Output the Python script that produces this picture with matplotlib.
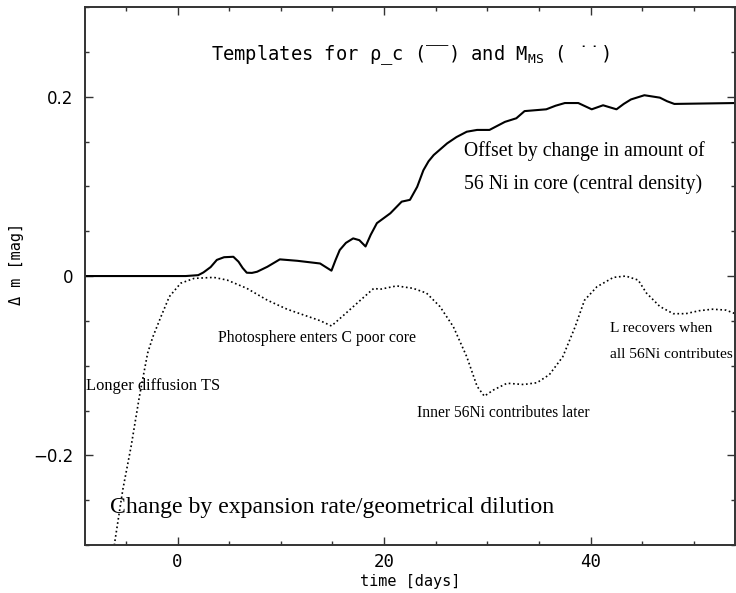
import matplotlib
matplotlib.use("Agg")
import matplotlib.pyplot as plt
from matplotlib.ticker import MultipleLocator

# ---- data ----
solid_t = [-9.0, 0.8, 2.0, 2.5, 3.2, 3.8, 4.5, 5.4, 5.9, 6.3, 6.7, 7.2, 7.7, 8.7,
           9.9, 11.6, 13.8, 14.9, 15.3, 15.7, 16.3, 17.0, 17.6, 18.2, 18.7,
           19.3, 20.6, 21.7, 22.5, 23.2, 23.8, 24.3, 24.8, 26.1, 27.0, 28.0,
           29.0, 30.2, 31.7, 32.8, 33.6, 35.7, 36.6, 37.5, 38.8, 40.1, 41.2,
           42.5, 43.2, 43.9, 45.2, 46.7, 47.4, 48.1, 54.0]
solid_m = [0.0, 0.0, 0.001, 0.004, 0.010, 0.018, 0.021, 0.0215, 0.016, 0.009,
           0.0037, 0.0035, 0.0048, 0.0104, 0.0186, 0.017, 0.014, 0.006, 0.018,
           0.029, 0.037, 0.042, 0.040, 0.033, 0.046, 0.059, 0.070, 0.083, 0.085,
           0.0995, 0.118, 0.128, 0.135, 0.148, 0.155, 0.161, 0.163, 0.163,
           0.172, 0.176, 0.184, 0.186, 0.190, 0.193, 0.193, 0.186, 0.1905,
           0.186, 0.192, 0.197, 0.2017, 0.199, 0.195, 0.192, 0.193]

dotted_t = [-6.2, -6.1, -5.3, -4.5, -3.7, -2.9, -2.4, -1.6, -0.8, 0.3, 1.6,
            3.5, 4.8, 6.7, 8.7, 10.6, 12.5, 13.8, 14.9, 16.1, 17.7, 19.0, 19.6,
            21.2, 22.8, 24.1, 25.4, 26.7, 28.0, 29.0, 29.7, 30.6, 31.9, 33.5,
            34.8, 36.0, 37.3, 38.5, 39.4, 40.6, 42.2, 43.4, 44.6, 45.4, 46.7,
            48.0, 49.2, 50.5, 51.8, 53.1, 54.0]
dotted_m = [-0.31, -0.298, -0.238, -0.190, -0.1345, -0.086, -0.068, -0.045,
            -0.023, -0.008, -0.0026, -0.0015, -0.0045, -0.0137, -0.027, -0.037,
            -0.0446, -0.0498, -0.0557, -0.0435, -0.027, -0.0137, -0.0148,
            -0.011, -0.0137, -0.019, -0.034, -0.0565, -0.090, -0.123, -0.134,
            -0.127, -0.1196, -0.121, -0.119, -0.110, -0.090, -0.0565, -0.027,
            -0.012, -0.0015, 0.0, -0.0045, -0.019, -0.034, -0.042, -0.042,
            -0.0387, -0.037, -0.038, -0.042]

x_ticks = [0, 20, 40]
y_ticks = [-0.2, 0.0, 0.2]
y_tick_labels = ["\u22120.2", "0", "0.2"]

title_text = "Templates for \u03c1_c (\u203e\u203e) and M$_\\mathtt{MS}$ ( \u02d9\u02d9)"
annotations = [
    ("Offset by change in amount of", 27.7, 0.1396, 14.2),
    ("56 Ni in core (central density)", 27.7, 0.1025, 14.2),
    ("Photosphere enters C poor core", 3.9, -0.069, 11.3),
    ("Longer diffusion TS", -8.85, -0.123, 11.9),
    ("Inner 56Ni contributes later", 23.2, -0.153, 11.2),
    ("L recovers when", 41.9, -0.058, 11.1),
    ("all 56Ni contributes", 41.9, -0.088, 11.1),
    ("Change by expansion rate/geometrical dilution", -6.5, -0.2585, 17.1),
]

fig = plt.figure(figsize=(7.36, 5.93), dpi=100)
ax = fig.add_axes([0.115, 0.081, 0.884, 0.907])

ax.plot(solid_t, solid_m, color="black", lw=1.5, solid_joinstyle="round")
ax.plot(dotted_t, dotted_m, color="black", lw=1.2, linestyle=(0, (1, 1.6)))

ax.set_xlim(-9, 54)
ax.set_ylim(-0.3, 0.3)

ax.xaxis.set_major_locator(MultipleLocator(20))
ax.xaxis.set_minor_locator(MultipleLocator(5))
ax.set_yticks(y_ticks)
ax.set_yticklabels(y_tick_labels, family="DejaVu Sans", fontsize=12)
ax.yaxis.set_minor_locator(MultipleLocator(0.05))
ax.set_xticks(x_ticks)
ax.set_xticklabels([str(v) for v in x_ticks], family="DejaVu Sans Mono", fontsize=12.5)

ax.tick_params(which="both", direction="in", top=True, right=True, width=1.0, color="#333333")
ax.tick_params(which="major", length=6)
ax.tick_params(which="minor", length=3)
ax.tick_params(axis="y", which="major", pad=8)
ax.tick_params(axis="x", which="major", pad=6)
for sp in ax.spines.values():
    sp.set_linewidth(1.4)
    sp.set_color("#333333")

ax.set_xlabel("time [days]", family="DejaVu Sans Mono", fontsize=11, labelpad=2)
ax.set_ylabel("\u0394 m [mag]", family="DejaVu Sans Mono", fontsize=11)
ax.yaxis.set_label_coords(-0.093, 0.523)

ax.text(0.5, 0.246, title_text, transform=ax.get_yaxis_transform(), ha="center", va="center",
        family=["DejaVu Sans Mono", "DejaVu Sans"], fontsize=13.5)

for txt, x, y, fs in annotations:
    ax.text(x, y, txt, ha="left", va="center", family="Liberation Serif", fontsize=fs,
            clip_on=False)

fig.savefig("out.png", dpi=100)
